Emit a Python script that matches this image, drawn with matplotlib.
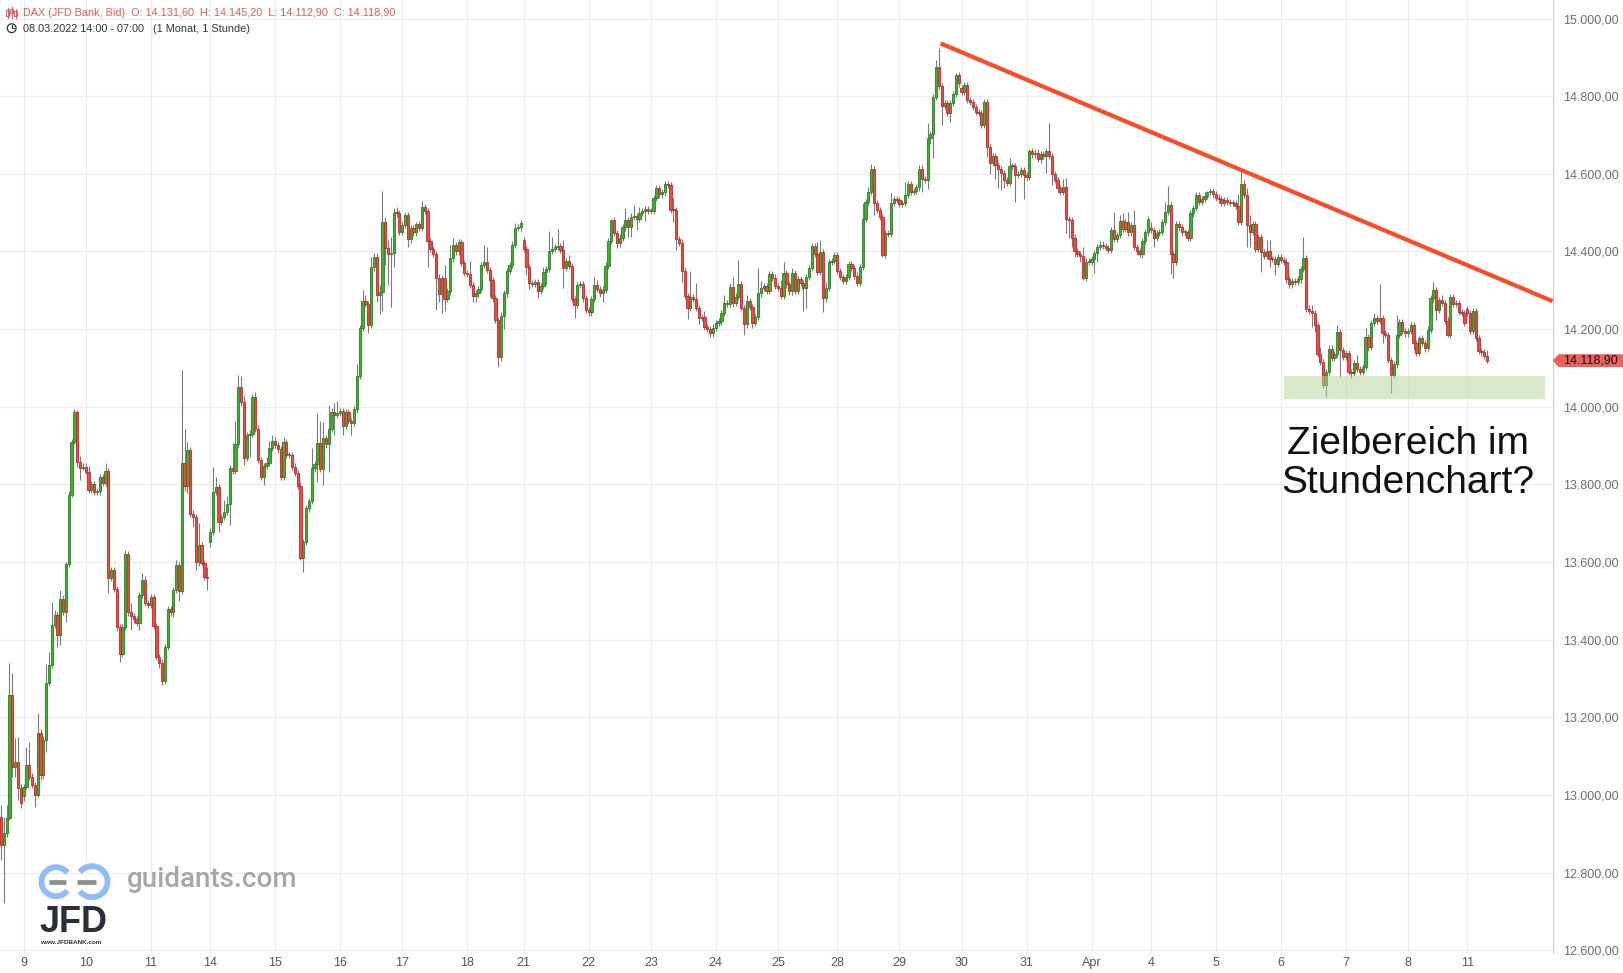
import matplotlib
matplotlib.use("Agg")
import matplotlib.pyplot as plt
from matplotlib.patches import Rectangle, Polygon, Arc, Circle
import matplotlib.transforms as mtransforms
import numpy as np

plt.rcParams['font.family'] = ['Liberation Sans', 'DejaVu Sans']

# hourly candles per trading day: (close, upper wick, lower wick)
m08 = [(12871,30,39),(12901,43,150),(12940,34,10),(13257,82,5),(13073,56,26),(13086,60,26),(13017,64,30),(12978,10,12)]
m09 = [(13021,8,12),(13077,47,5),(13047,60,8),(13026,10,8),(13000,8,30),(13159,51,5),(13051,10,12),(13141,10,10),(13288,50,30),(13335,34,8),(13438,60,8),(13464,12,8),(13412,8,30),(13506,22,25),(13472,10,8),(13594,5,27),(13773,10,8),(13908,10,5),(13986,7,5),(13857,5,11),(13841,15,30),(13846,8,5)]
m10 = [(13833,8,5),(13786,15,8),(13800,10,8),(13780,8,8),(13782,10,8),(13818,8,10),(13804,8,8),(13835,20,8),(13560,8,40),(13580,8,8),(13530,8,8),(13433,8,10),(13363,8,20),(13433,8,8),(13620,12,8),(13470,8,8),(13460,25,35),(13452,8,8),(13444,8,8),(13515,8,20),(13555,17,8),(13495,8,8),(13490,8,8)]
m11 = [(13510,8,8),(13436,8,8),(13356,8,8),(13341,8,15),(13294,8,12),(13382,8,8),(13478,10,8),(13470,10,10),(13528,8,12),(13592,12,8),(13525,8,25),(13854,241,8),(13797,90,15),(13889,21,20),(13725,8,10),(13715,8,25),(13601,8,22),(13644,56,10),(13597,8,8),(13561,8,8),(13559,25,30)]
m14 = [(13678,10,12),(13780,65,8),(13794,26,8),(13704,8,26),(13715,8,8),(13730,30,8),(13749,20,8),(13841,8,54),(13834,65,8),(13903,60,8),(14050,32,8),(14011,28,8),(13867,17,17),(13927,8,8),(13931,8,56),(14024,8,8),(13944,15,8),(13863,8,8),(13820,8,8),(13847,8,22),(13856,15,8),(13893,20,8),(13913,15,8)]
m15 = [(13902,8,8),(13890,8,8),(13820,8,8),(13910,13,8),(13876,8,8),(13876,8,8),(13846,8,8),(13830,8,8),(13797,8,8),(13610,8,5),(13652,8,35),(13738,8,8),(13758,8,8),(13841,54,8),(13852,8,8),(13906,77,45),(13839,57,8),(13919,43,41),(13903,8,8),(13944,61,70),(13987,10,8),(13979,22,52),(13983,33,8)]
m16 = [(13990,8,8),(13951,8,24),(13987,8,8),(13963,8,8),(13959,8,32),(13993,8,8),(14079,31,8),(14202,8,8),(14273,28,8),(14265,15,8),(14211,8,22),(14359,28,8),(14387,8,8),(14288,8,17),(14295,19,48),(14475,81,48),(14408,15,43),(14394,22,80),(14395,43,136),(14500,11,34),(14498,15,8),(14451,8,8)]
m17 = [(14468,8,8),(14494,9,8),(14431,8,19),(14460,8,8),(14449,8,8),(14470,7,8),(14460,8,8),(14514,16,8),(14505,9,8),(14427,8,66),(14406,8,8),(14393,8,8),(14333,8,84),(14290,8,21),(14331,8,48),(14277,34,30),(14297,8,8),(14382,35,8),(14417,17,8),(14400,8,8),(14425,6,8),(14370,8,8),(14344,8,8)]
m18 = [(14342,8,8),(14314,34,8),(14285,8,16),(14292,8,16),(14303,8,8),(14365,8,8),(14374,44,8),(14352,38,8),(14327,8,43),(14279,8,8),(14224,8,8),(14129,8,26),(14235,8,10),(14292,8,35),(14350,8,8),(14365,8,8),(14418,8,8),(14460,13,8),(14462,8,8),(14473,8,8)]
m21 = [(14406,8,8),(14359,8,20),(14318,8,15),(14316,8,8),(14322,8,8),(14298,8,19),(14311,8,8),(14346,15,8),(14355,8,33),(14401,52,8),(14406,32,8),(14412,8,8),(14414,44,8),(14403,8,8),(14357,27,52),(14376,8,8),(14363,15,8),(14277,8,8),(14262,8,34),(14314,8,8),(14315,8,8),(14279,8,8),(14249,8,8)]
m22 = [(14243,8,8),(14278,8,10),(14314,21,8),(14304,13,8),(14292,8,8),(14302,8,21),(14363,11,8),(14427,8,8),(14481,4,8),(14447,8,8),(14421,8,13),(14436,8,10),(14462,8,8),(14481,30,8),(14464,8,26),(14490,8,26),(14491,29,8),(14483,8,28),(14500,15,8),(14504,8,8),(14509,8,25),(14504,8,8)]
m23 = [(14504,8,8),(14537,8,8),(14563,8,8),(14547,8,8),(14552,8,8),(14573,9,8),(14571,8,8),(14507,9,8),(14506,31,29),(14431,8,27),(14423,8,8),(14351,8,29),(14285,8,8),(14255,8,30),(14282,68,8),(14278,8,8),(14254,40,8),(14228,8,16),(14230,8,8),(14206,17,8),(14200,8,8),(14189,8,10),(14204,8,8)]
m24 = [(14215,8,8),(14221,8,8),(14242,8,10),(14268,20,8),(14265,8,8),(14308,10,8),(14268,27,10),(14284,8,8),(14315,63,8),(14254,8,8),(14212,8,27),(14272,16,8),(14256,8,8),(14215,8,13),(14232,8,8),(14292,65,8),(14305,19,8),(14311,8,8),(14298,8,8),(14341,8,8),(14333,8,8),(14311,8,8)]
m25 = [(14307,8,8),(14286,20,8),(14344,30,8),(14315,8,8),(14297,8,8),(14344,13,8),(14299,8,8),(14328,8,8),(14318,8,8),(14305,8,58),(14335,8,51),(14358,7,8),(14414,7,8),(14393,8,8),(14348,32,8),(14399,31,8),(14279,8,34),(14305,17,8),(14372,8,8),(14376,8,8),(14391,8,8)]
m28 = [(14350,7,8),(14335,8,8),(14325,8,8),(14335,8,8),(14367,8,8),(14357,8,8),(14338,8,8),(14318,8,8),(14360,8,8),(14483,41,8),(14527,8,8),(14554,13,8),(14612,13,8),(14524,8,30),(14507,8,8),(14488,8,8),(14391,8,4),(14447,8,8),(14445,8,8),(14524,26,8),(14534,8,8),(14533,8,8)]
m29 = [(14522,8,8),(14524,8,8),(14546,34,8),(14574,8,8),(14553,8,8),(14555,8,8),(14565,8,8),(14612,12,8),(14586,11,34),(14584,8,8),(14692,38,22),(14702,8,15),(14797,8,60),(14875,18,8),(14826,50,8),(14776,8,50),(14782,8,8),(14758,8,8),(14782,8,25),(14805,8,8),(14855,6,8),(14833,8,8)]
m30 = [(14812,8,8),(14829,8,8),(14790,8,8),(14785,8,8),(14772,8,8),(14760,8,8),(14756,8,8),(14726,8,8),(14786,8,8),(14670,8,26),(14629,8,30),(14646,8,8),(14623,8,37),(14612,8,49),(14601,8,43),(14584,8,20),(14576,8,8),(14620,20,8),(14619,8,8),(14597,8,69),(14600,8,8),(14610,8,8),(14597,8,62)]
m31 = [(14593,8,8),(14659,5,8),(14650,8,8),(14655,8,8),(14637,8,6),(14650,8,8),(14647,8,8),(14659,8,45),(14646,71,8),(14599,8,28),(14584,8,8),(14564,8,14),(14554,8,8),(14567,21,8),(14483,23,36),(14480,8,45),(14436,8,24),(14400,8,13),(14393,8,8),(14389,8,15),(14333,23,6),(14374,8,8),(14374,8,8)]
a01 = [(14381,8,8),(14395,8,37),(14412,8,21),(14418,8,8),(14415,8,8),(14410,8,8),(14405,8,8),(14455,8,8),(14432,48,8),(14442,8,8),(14478,16,8),(14458,20,8),(14475,8,8),(14449,28,8),(14468,8,8),(14411,39,8),(14400,8,8),(14393,8,8),(14428,8,11),(14449,8,8),(14483,8,8)]
a04 = [(14455,15,8),(14434,8,22),(14447,8,8),(14451,8,8),(14475,8,8),(14502,25,8),(14521,48,8),(14393,8,52),(14374,8,41),(14470,8,8),(14462,8,8),(14449,8,8),(14449,8,8),(14434,8,8),(14498,8,8),(14513,8,8),(14546,8,8),(14527,8,8),(14535,8,8),(14544,8,8),(14554,2,8),(14556,8,8),(14547,7,8)]
a05 = [(14539,8,8),(14534,8,8),(14524,8,8),(14532,8,8),(14528,8,8),(14524,8,8),(14524,8,8),(14518,8,8),(14475,29,8),(14575,31,8),(14545,8,8),(14467,18,55),(14451,27,39),(14470,8,8),(14406,8,8),(14438,8,8),(14399,8,51),(14389,8,8),(14401,29,8),(14380,29,19),(14380,8,8),(14369,8,30),(14385,8,8)]
a06 = [(14378,8,8),(14374,8,8),(14328,8,8),(14315,8,8),(14324,8,8),(14322,8,8),(14328,8,8),(14355,8,8),(14384,54,8),(14253,8,8),(14247,8,8),(14241,15,35),(14211,8,18),(14135,8,8),(14116,19,8),(14056,8,8),(14090,8,30),(14150,8,8),(14125,8,8),(14135,8,8),(14193,18,8),(14146,8,70),(14129,8,8)]
a07 = [(14139,8,8),(14089,8,8),(14086,8,13),(14112,8,8),(14097,21,8),(14089,8,8),(14103,8,8),(14180,22,8),(14155,8,11),(14215,8,8),(14228,13,8),(14222,8,8),(14229,87,8),(14189,8,26),(14185,8,8),(14120,8,8),(14082,8,46),(14109,8,8),(14185,51,8),(14218,8,8),(14195,8,8),(14189,8,8)]
a08 = [(14196,8,8),(14211,8,8),(14163,8,17),(14139,8,8),(14178,4,8),(14165,8,8),(14151,8,9),(14199,8,8),(14279,8,8),(14301,21,8),(14249,8,26),(14275,8,8),(14268,13,8),(14222,8,8),(14185,8,4),(14282,8,8),(14264,8,8),(14268,8,8),(14245,8,8),(14241,8,8),(14217,8,8)]
a11 = [(14241,8,8),(14196,8,8),(14247,8,8),(14178,8,8),(14144,8,8),(14140,8,8),(14131.6,8,8),(14118.9,13.6,6.0)]

days = [m08, m09, m10, m11, m14, m15, m16, m17, m18, m21, m22, m23, m24, m25,
        m28, m29, m30, m31, a01, a04, a05, a06, a07, a08, a11]
day_labels = ["", "9", "10", "11", "14", "15", "16", "17", "18", "21", "22", "23", "24", "25",
              "28", "29", "30", "31", "Apr", "4", "5", "6", "7", "8", "11"]
day_opens = [12944, 12996, 13846, 13490, 13652, 13913, 13983, 14451, 14344, 14430, 14249, 14504, 14204,
             14311, 14391, 14533, 14820, 14597, 14374, 14460, 14547, 14385, 14129, 14189, 14252]

# trend line anchors (price) and target zone (price)
trend_start, trend_end = 14936, 14272
zone_lo, zone_hi = 14020, 14080
last_price = 14118.9

o, h, l, c, starts = [], [], [], [], []
for d, first_open in zip(days, day_opens):
    starts.append(len(c))
    prev = first_open
    for close, up, dn in d:
        o.append(prev)
        c.append(close)
        h.append(max(prev, close) + up)
        l.append(min(prev, close) - dn)
        prev = close
o, h, l, c = map(np.array, (o, h, l, c))
n = len(c)
x = np.arange(n)

W, H = 1623, 973
fig = plt.figure(figsize=(W / 100, H / 100), dpi=100)
ax = fig.add_axes([0, 20 / H, 1552.6 / W, 1 - 20 / H])

xr = n - 1 + 23.2
ax.set_xlim(-0.35, xr)
ax.set_ylim(12592.8, 15047.9)

ax.vlines(x, l, h, color="#7a7a7a", lw=0.8, zorder=2)
bot = np.minimum(o, c)
hgt = np.maximum(np.abs(c - o), 2.6)
rise = c >= o
ax.bar(x[rise], hgt[rise], bottom=bot[rise], width=0.8, color="#3fae35",
       edgecolor="#23851b", linewidth=0.6, zorder=3)
ax.bar(x[~rise], hgt[~rise], bottom=bot[~rise], width=0.8, color="#ee4a45",
       edgecolor="#c42626", linewidth=0.6, zorder=3)

# target zone
z0 = starts[day_labels.index("6")] + 1.2
ax.add_patch(Rectangle((z0, zone_lo), n - 1 + 20.5 - z0, zone_hi - zone_lo,
                       facecolor="#b3d597", alpha=0.5, edgecolor="none", zorder=4))

# trend line from the high
peak = int(np.argmax(h))
ax.plot([peak + 0.6, xr], [trend_start, trend_end], color="#ff4a22", lw=3.0,
        solid_capstyle="butt", zorder=5, clip_on=False)

yt = np.arange(12600, 15001, 200)
ax.set_yticks(yt)
ax.set_yticklabels([f"{v:,.2f}".replace(",", "X").replace(".", ",").replace("X", ".") for v in yt])
ax.set_xticks(starts[1:])
ax.set_xticklabels(day_labels[1:])
ax.yaxis.tick_right()
ax.tick_params(axis="y", length=0, pad=7.5, labelsize=9, labelcolor="#6e6e6e")
ax.tick_params(axis="x", length=0, pad=3, labelsize=9, labelcolor="#555555")
ax.grid(True, color="#ececec", lw=0.8, zorder=0)
ax.set_axisbelow(True)
for s in ("top", "left", "bottom"):
    ax.spines[s].set_visible(False)
ax.spines["right"].set_color("#cfcfcf")
ax.spines["right"].set_linewidth(0.8)

# last price flag on the axis
tr = mtransforms.blended_transform_factory(ax.transAxes, ax.transData)
fx = 1623 / 1552.6
ax.add_patch(Polygon([(1.0, last_price), (1.0038, last_price + 16.5), (fx, last_price + 16.5),
                      (fx, last_price - 16.5), (1.0038, last_price - 16.5)],
                     closed=True, transform=tr, clip_on=False, facecolor="#f2605c",
                     edgecolor="none", zorder=6))
ax.text(1.0245, last_price, "14.118,90", transform=tr, ha="center", va="center",
        fontsize=9, color="#111111", zorder=7, clip_on=False)

# overlay in pixel coordinates for header, logo and note
ov = fig.add_axes([0, 0, 1, 1])
ov.set_xlim(0, W)
ov.set_ylim(H, 0)
ov.axis("off")

ov.text(23, 13.5, "DAX (JFD Bank, Bid)  O: 14.131,60  H: 14.145,20  L: 14.112,90  C: 14.118,90",
        color="#e8595a", fontsize=7.85, va="center", ha="left")
ov.text(23, 28.5, "08.03.2022 14:00 - 07:00   (1 Monat, 1 Stunde)",
        color="#333333", fontsize=7.85, va="center", ha="left")
for cx, y0, y1, b0, b1 in [(7.5, 8, 18, 10, 16), (11.5, 7, 18, 9, 13), (15.5, 9, 18, 11, 16)]:
    ov.plot([cx, cx], [y0, y1], color="#e8595a", lw=0.7)
    ov.add_patch(Rectangle((cx - 1.2, b0), 2.4, b1 - b0, facecolor="white", edgecolor="#e8595a", lw=0.7))
ov.add_patch(Circle((11.7, 28.2), 4.4, fill=False, edgecolor="#333333", lw=0.9))
ov.plot([11.7, 11.7, 14.2], [25.3, 28.2, 28.2], color="#333333", lw=0.8)

ov.text(1408, 463.5, "Zielbereich im\nStundenchart?", ha="center", va="center",
        fontsize=28, color="#111111", linespacing=1.1)

# logo
blue = "#8fbcf7"
ov.add_patch(Arc((56, 881.7), 29, 29, theta1=38, theta2=322, color=blue, lw=4.2))
ov.add_patch(Arc((92, 881.7), 31, 31, theta1=-142, theta2=142, color=blue, lw=4.2))
ov.plot([49, 66], [881.7, 881.7], color="#8c8c8c", lw=3.4, solid_capstyle="butt")
ov.plot([77, 96], [881.7, 881.7], color="#8c8c8c", lw=3.4, solid_capstyle="butt")
ov.text(39, 932, "JFD", fontsize=26, fontweight="bold", color="#2b2f38", va="baseline", ha="left")
ov.text(40, 940, "www.JFDBANK.com", fontsize=4.6, fontweight="bold", color="#333333", va="top", ha="left")
ov.text(127, 887, "guidants.com", fontsize=20, color="#a6a6a6", va="baseline", ha="left",
        family=["Roboto", "DejaVu Sans"], fontweight="medium")

fig.savefig("out.png", dpi=100)
